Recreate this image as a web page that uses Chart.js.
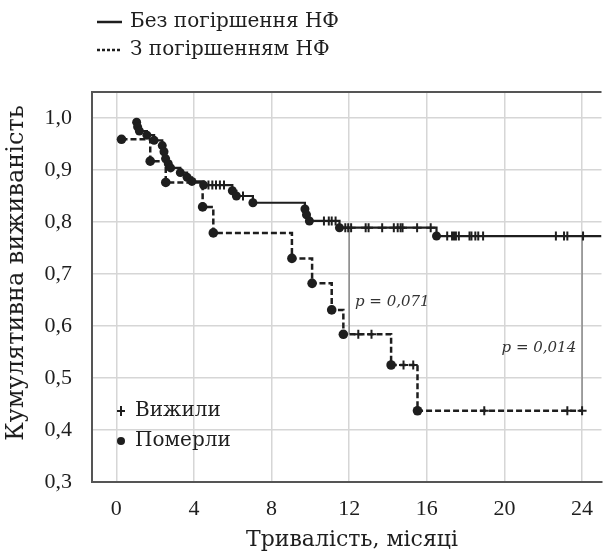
<!DOCTYPE html>
<html>
<head>
<meta charset="utf-8">
<script src="https://cdn.jsdelivr.net/npm/chart.js@4.4.1/dist/chart.umd.min.js"></script>
<style>
    body { margin: 0; background: #fff; }
    #wrap { width: 608px; height: 553px; }
</style>
</head>
<body>
<div id="wrap"><canvas id="myChart"></canvas></div>
<script>
// Без погіршення НФ: deaths (time, survival)
const solidDeathT = [1.05, 1.1, 1.19, 1.58, 1.95, 2.37, 2.46, 2.54, 2.68, 2.8, 3.3, 3.65, 3.9, 4.5, 5.98, 6.19, 7.04, 9.72, 9.8, 9.95, 11.5, 16.5];
const solidDeathS = [0.992, 0.983, 0.975, 0.967, 0.957, 0.947, 0.935, 0.922, 0.912, 0.904, 0.895, 0.886, 0.878, 0.871, 0.860, 0.850, 0.837, 0.825, 0.814, 0.802, 0.789, 0.773];
// censored
const solidCensT = [4.75, 4.95, 5.14, 5.34, 5.55, 6.53, 10.7, 10.95, 11.1, 11.3, 11.8, 11.95, 12.1, 12.85, 13.0, 13.7, 14.3, 14.5, 14.65, 14.75, 15.5, 16.2, 17.05, 17.3, 17.4, 17.5, 17.65, 18.2, 18.3, 18.5, 18.65, 18.9, 22.65, 23.07, 23.24, 24.05];
const solidCensS = [0.871, 0.871, 0.871, 0.871, 0.871, 0.850, 0.802, 0.802, 0.802, 0.802, 0.789, 0.789, 0.789, 0.789, 0.789, 0.789, 0.789, 0.789, 0.789, 0.789, 0.789, 0.789, 0.773, 0.773, 0.773, 0.773, 0.773, 0.773, 0.773, 0.773, 0.773, 0.773, 0.773, 0.773, 0.773, 0.773];
const solidEndT = 25;

// З погіршенням НФ
const dashDeathT = [0.27, 1.75, 2.55, 4.45, 5.0, 9.05, 10.09, 11.1, 11.7, 14.16, 15.52];
const dashDeathS = [0.959, 0.917, 0.876, 0.829, 0.779, 0.730, 0.682, 0.631, 0.584, 0.525, 0.437];
const dashCensT = [12.47, 13.15, 14.8, 15.3, 18.96, 23.24, 24.0];
const dashCensS = [0.584, 0.584, 0.525, 0.525, 0.437, 0.437, 0.437];
const dashEndT = 24.0;

// p-value comparisons
const pLineT = [12, 24];
const pLineTop = [0.789, 0.773];
const pLineBottom = [0.584, 0.437];
const pLabels = ['p = 0,071', 'p = 0,014'];
const pLabelT = [12.3, 19.85];
const pLabelS = [0.646, 0.557];

const xTicks = [0, 4, 8, 12, 16, 20, 24];
const yTicks = [0.3, 0.4, 0.5, 0.6, 0.7, 0.8, 0.9, 1.0];

const ink = '#1e1e1e';

function pairs(ts, ss) {
    let out = [];
    for (let i = 0; i < ts.length; i++) {
        out.push({ x: ts[i], y: ss[i] });
    }
    return out;
}

let solidLine = pairs(solidDeathT, solidDeathS);
solidLine.push({ x: solidEndT, y: solidDeathS[solidDeathS.length - 1] });
let dashLine = pairs(dashDeathT, dashDeathS);
dashLine.push({ x: dashEndT, y: dashDeathS[dashDeathS.length - 1] });

let pDatasets = [];
for (let i = 0; i < pLineT.length; i++) {
    pDatasets.push({
        type: 'line',
        data: [{ x: pLineT[i], y: pLineTop[i] }, { x: pLineT[i], y: pLineBottom[i] }],
        borderColor: '#777',
        borderWidth: 1.2,
        pointRadius: 0,
        order: 5
    });
}

const extraText = {
    id: 'extraText',
    afterDraw(chart) {
        const { ctx, chartArea, scales } = chart;
        ctx.save();
        // top frame
        ctx.strokeStyle = '#555';
        ctx.lineWidth = 2;
        ctx.beginPath();
        ctx.moveTo(chartArea.left, chartArea.top);
        ctx.lineTo(chartArea.right, chartArea.top);
        ctx.stroke();

        ctx.fillStyle = ink;
        ctx.textBaseline = 'middle';
        ctx.textAlign = 'left';

        // top legend
        ctx.strokeStyle = ink;
        ctx.lineWidth = 2.5;
        ctx.beginPath();
        ctx.moveTo(97, 22);
        ctx.lineTo(122, 22);
        ctx.stroke();
        ctx.setLineDash([3, 2]);
        ctx.beginPath();
        ctx.moveTo(97, 50);
        ctx.lineTo(121, 50);
        ctx.stroke();
        ctx.setLineDash([]);
        ctx.font = '20px "DejaVu Serif"';
        ctx.fillText('Без погіршення НФ', 130, 22);
        ctx.fillText('З погіршенням НФ', 130, 50);

        // inner legend
        let lx = chartArea.left + 29;
        ctx.lineWidth = 2;
        ctx.beginPath();
        ctx.moveTo(lx - 4, 411);
        ctx.lineTo(lx + 4, 411);
        ctx.moveTo(lx, 406);
        ctx.lineTo(lx, 416);
        ctx.stroke();
        ctx.beginPath();
        ctx.arc(lx, 441, 4, 0, Math.PI * 2);
        ctx.fill();
        ctx.fillText('Вижили', 135, 411);
        ctx.fillText('Померли', 135, 441);

        // p labels
        ctx.font = 'italic 15px "DejaVu Serif"';
        ctx.fillStyle = '#333';
        for (let i = 0; i < pLabels.length; i++) {
            ctx.fillText(pLabels[i], scales.x.getPixelForValue(pLabelT[i]), scales.y.getPixelForValue(pLabelS[i]));
        }

        // axis titles
        ctx.fillStyle = ink;
        ctx.font = '22px "DejaVu Serif"';
        ctx.textAlign = 'center';
        ctx.fillText('Тривалість, місяці', 352, 540);
        ctx.translate(17, 273);
        ctx.rotate(-Math.PI / 2);
        ctx.font = '24px "DejaVu Serif"';
        ctx.fillText('Кумулятивна виживаність', 0, 0);
        ctx.restore();
    }
};

let ctx = $ => 0;
let canvas = document.getElementById('myChart').getContext('2d');
let myChart = new Chart(canvas, {
    type: 'scatter',
    data: {
        datasets: [
            {
                data: pairs(solidDeathT, solidDeathS),
                pointStyle: 'circle',
                pointRadius: 4.5,
                backgroundColor: ink,
                borderColor: ink,
                borderWidth: 0,
                order: 0
            },
            {
                data: pairs(dashDeathT, dashDeathS),
                pointStyle: 'circle',
                pointRadius: 4.8,
                backgroundColor: ink,
                borderColor: ink,
                borderWidth: 0,
                order: 0
            },
            {
                data: pairs(solidCensT, solidCensS),
                pointStyle: 'cross',
                pointRadius: 4.5,
                borderColor: ink,
                borderWidth: 2,
                order: 0
            },
            {
                data: pairs(dashCensT, dashCensS),
                pointStyle: 'cross',
                pointRadius: 4.5,
                borderColor: ink,
                borderWidth: 2,
                order: 0
            },
            {
                type: 'line',
                data: solidLine,
                stepped: true,
                borderColor: ink,
                borderWidth: 2.2,
                pointRadius: 0,
                order: 2
            },
            {
                type: 'line',
                data: dashLine,
                stepped: true,
                borderColor: ink,
                borderWidth: 2.5,
                borderDash: [6, 3],
                pointRadius: 0,
                order: 2
            },
            ...pDatasets
        ]
    },
    options: {
        responsive: true,
        maintainAspectRatio: false,
        animation: false,
        layout: { padding: { top: 92, left: 0, right: 0, bottom: 0 } },
        plugins: {
            legend: { display: false },
            tooltip: { enabled: false }
        },
        scales: {
            x: {
                type: 'linear',
                min: -1.25,
                max: 25,
                afterFit: function (scale) { scale.height = 71; },
                afterBuildTicks: function (scale) {
                    scale.ticks = xTicks.map(v => ({ value: v }));
                },
                ticks: {
                    padding: 14,
                    color: ink,
                    font: { family: 'Liberation Serif', size: 22 },
                    callback: v => String(v)
                },
                grid: { color: '#d6d6d6', lineWidth: 1.5, drawTicks: false },
                border: { display: true, color: '#555', width: 2 }
            },
            y: {
                min: 0.3,
                max: 1.05,
                afterFit: function (scale) { scale.width = 92; },
                afterBuildTicks: function (scale) {
                    scale.ticks = yTicks.map(v => ({ value: v }));
                },
                ticks: {
                    padding: 20,
                    color: ink,
                    font: { family: 'Liberation Serif', size: 22 },
                    callback: v => v.toFixed(1).replace('.', ',')
                },
                grid: { color: '#d6d6d6', lineWidth: 1.5, drawTicks: false },
                border: { display: true, color: '#555', width: 2 }
            }
        }
    },
    plugins: [extraText]
});
</script>
</body>
</html>
